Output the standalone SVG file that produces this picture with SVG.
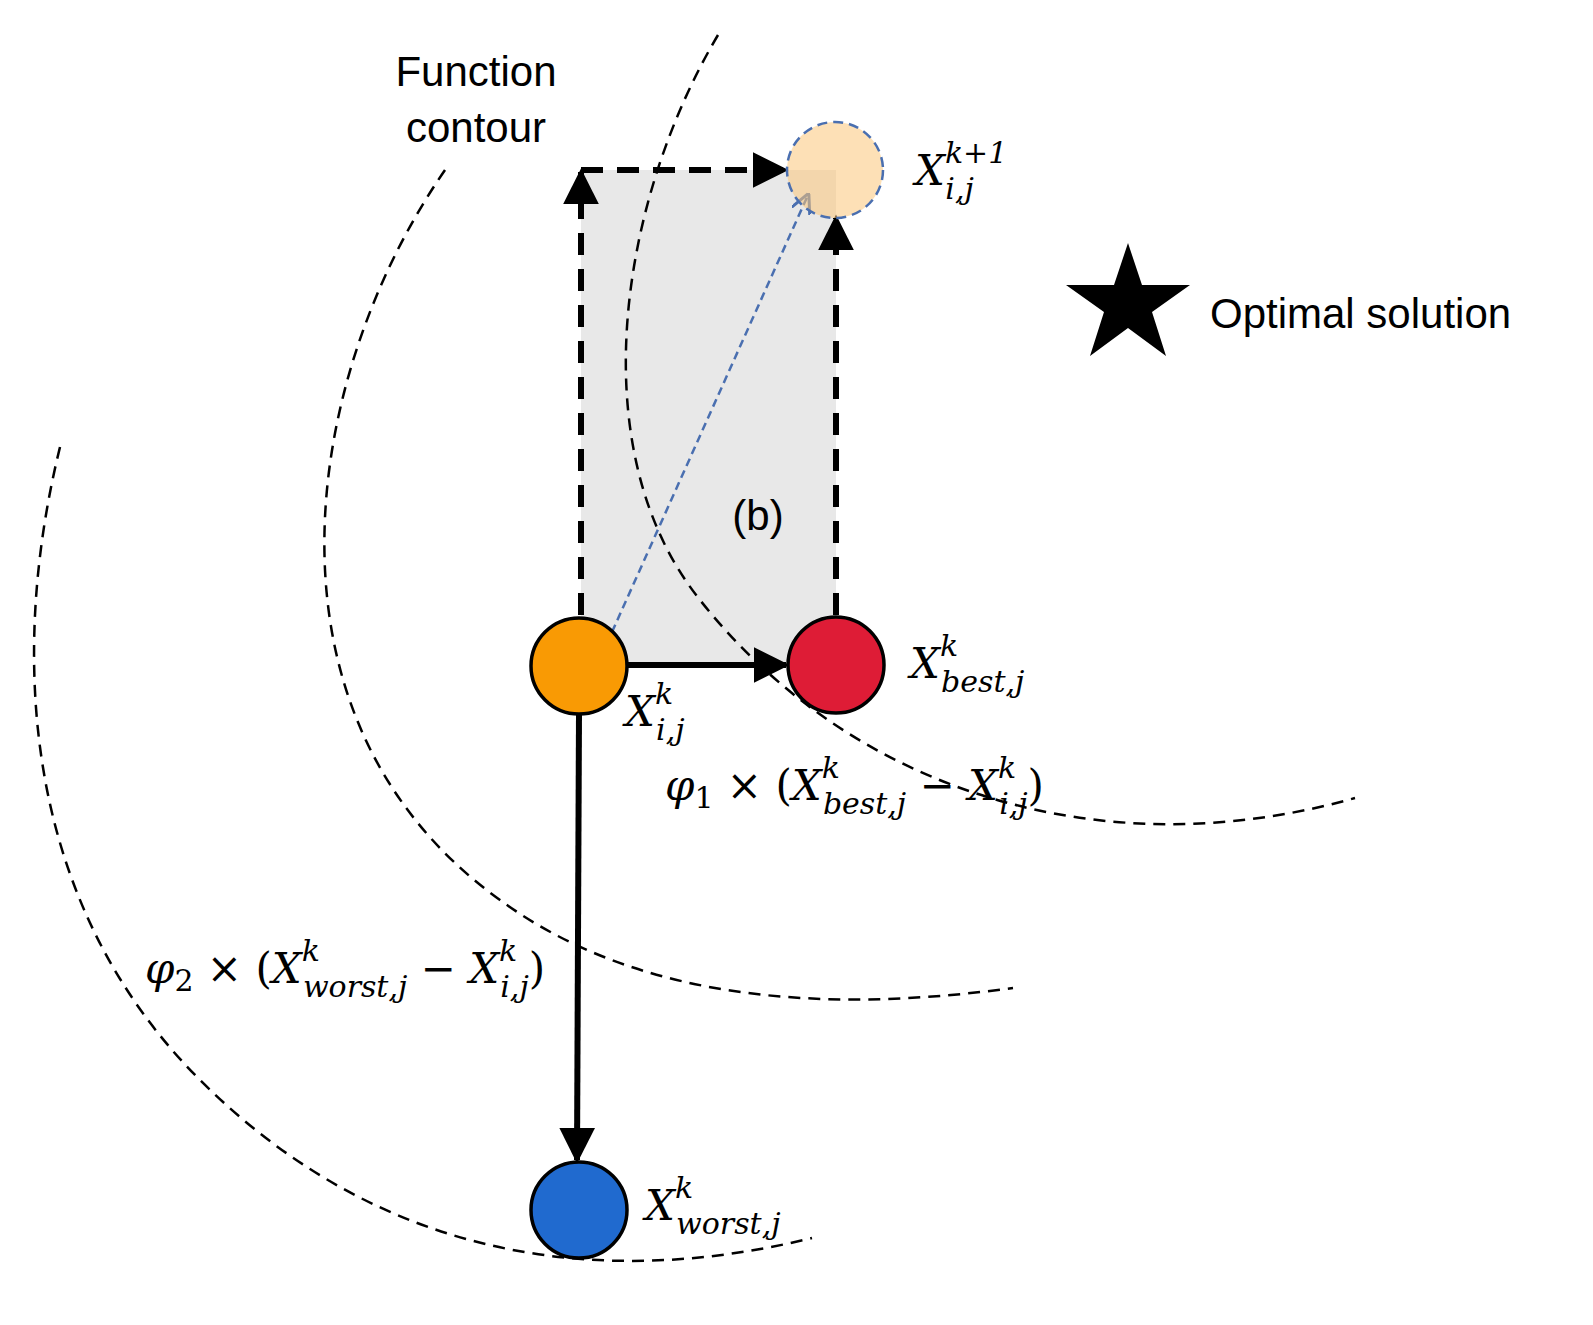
<svg xmlns="http://www.w3.org/2000/svg" width="1593" height="1325" viewBox="0 0 1593 1325">
<defs>
<style>
.c{fill:none;stroke:#000;stroke-width:2.5;stroke-dasharray:12 8}
.t{font-family:"Liberation Sans",Arial,sans-serif;font-size:42px;fill:#000}
.m{font-family:"DejaVu Serif","Liberation Serif",serif;font-style:italic;font-size:42px;fill:#000}
.s{font-size:30px}
.n{stroke:#000;stroke-width:3.5}
</style>
<marker id="ah" viewBox="0 0 10 10" refX="9" refY="5" markerWidth="6" markerHeight="6" orient="auto" markerUnits="strokeWidth"><path d="M0,0L10,5L0,10z" fill="#000"/></marker>
<marker id="ab" viewBox="0 0 10 10" refX="9" refY="5" markerWidth="8" markerHeight="8" orient="auto" markerUnits="strokeWidth"><path d="M0,0L10,5L0,10" fill="none" stroke="#4a6fb0" stroke-width="1.5"/></marker>
</defs>
<rect width="1593" height="1325" fill="#fff"/>
<rect x="581" y="170" width="255" height="495" fill="#e8e8e8"/>
<g id="contours">
<path class="c" d="M445,170 C300,380 250,720 500,900 C650,1010 850,1010 1013,988"/>
<path class="c" d="M60,447 C10,650 20,900 200,1080 C380,1260 600,1290 812,1238"/>
<path class="c" d="M718,35 C620,200 580,450 700,600 C850,790 1100,870 1355,798"/>
</g>
<g id="connectors">
<path d="M581,615 V172" stroke="#000" stroke-width="6" stroke-dasharray="22 14" fill="none" marker-end="url(#ah)"/>
<path d="M581,170 H785" stroke="#000" stroke-width="6" stroke-dasharray="22 14" fill="none" marker-end="url(#ah)"/>
<path d="M836,615 V218" stroke="#000" stroke-width="6" stroke-dasharray="22 14" fill="none" marker-end="url(#ah)"/>
<path d="M627,665 H786" stroke="#000" stroke-width="6" fill="none" marker-end="url(#ah)"/>
<path d="M579,714 L577,1160" stroke="#000" stroke-width="6" fill="none" marker-end="url(#ah)"/>
<path d="M612,632 L808,195" stroke="#4a6fb0" stroke-width="2.5" stroke-dasharray="8 5" fill="none" marker-end="url(#ab)"/>
</g>
<g id="node-next"><circle cx="835" cy="170" r="48" fill="#fbc77a" fill-opacity="0.55" stroke="#4a6fb0" stroke-width="2.5" stroke-dasharray="10 6"/></g>
<g id="node-i"><circle cx="579" cy="666" r="48" fill="#f99a04" class="n"/></g>
<g id="node-best"><circle cx="836" cy="665" r="48" fill="#de1c36" class="n"/></g>
<g id="node-worst"><circle cx="579" cy="1210" r="48" fill="#206acf" class="n"/></g>
<g id="star"><polygon points="1128,243 1142,285 1190,285 1152,312 1166,356 1128,328 1090,356 1104,312 1066,285 1114,285" fill="#000"/></g>
<g id="labels">
<text class="t" x="476" y="86" text-anchor="middle">Function</text>
<text class="t" x="476" y="142" text-anchor="middle">contour</text>
<text class="t" x="1210" y="328">Optimal solution</text>
<text class="t" x="758" y="530" text-anchor="middle">(b)</text>
<text class="m" x="915" y="185">X<tspan class="s" dy="-22">k+1</tspan><tspan class="s" dx="-62" dy="36">i,j</tspan></text>
<text class="m" x="910" y="678">X<tspan class="s" dy="-22">k</tspan><tspan class="s" dx="-17" dy="36">best,j</tspan></text>
<text class="m" x="625" y="726">X<tspan class="s" dy="-22">k</tspan><tspan class="s" dx="-17" dy="36">i,j</tspan></text>
<text class="m" x="645" y="1220">X<tspan class="s" dy="-22">k</tspan><tspan class="s" dx="-17" dy="36">worst,j</tspan></text>
<text class="m" x="665" y="800">φ<tspan class="s" font-style="normal" dy="8">1</tspan><tspan font-style="normal" dy="-8"> × (</tspan>X<tspan class="s" dy="-22">k</tspan><tspan class="s" dx="-17" dy="36">best,j</tspan><tspan font-style="normal" dy="-14"> − </tspan>X<tspan class="s" dy="-22">k</tspan><tspan class="s" dx="-17" dy="36">i,j</tspan><tspan font-style="normal" dy="-14">)</tspan></text>
<text class="m" x="145" y="983">φ<tspan class="s" font-style="normal" dy="8">2</tspan><tspan font-style="normal" dy="-8"> × (</tspan>X<tspan class="s" dy="-22">k</tspan><tspan class="s" dx="-17" dy="36">worst,j</tspan><tspan font-style="normal" dy="-14"> − </tspan>X<tspan class="s" dy="-22">k</tspan><tspan class="s" dx="-17" dy="36">i,j</tspan><tspan font-style="normal" dy="-14">)</tspan></text>
</g>
</svg>
